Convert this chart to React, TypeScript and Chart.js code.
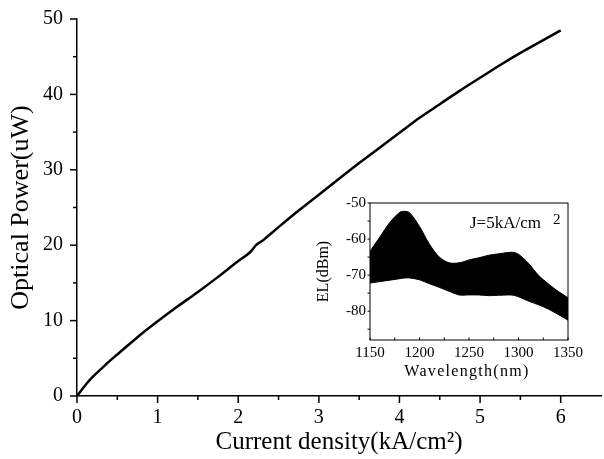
import React, { useEffect, useRef } from 'react';
import { Chart, registerables } from 'chart.js';
Chart.register(...registerables);

// Main curve: optical power vs current density
const currentDensity = [0, 0.1, 0.2, 0.3, 0.4, 0.5, 0.75, 1.0, 1.25, 1.5, 1.75, 2.0, 2.15, 2.22, 2.3, 2.5, 2.75, 3.0, 3.25, 3.5, 3.75, 4.0, 4.25, 4.5, 4.75, 5.0, 5.25, 5.5, 5.75, 6.0];
const opticalPower = [0, 1.4, 2.6, 3.6, 4.6, 5.5, 7.8, 9.9, 11.9, 13.8, 15.8, 17.9, 19.1, 20.0, 20.6, 22.4, 24.6, 26.7, 28.8, 30.9, 32.9, 34.9, 36.9, 38.7, 40.5, 42.2, 43.9, 45.5, 47.0, 48.5];
const mainXTicks = [0, 0.5, 1, 1.5, 2, 2.5, 3, 3.5, 4, 4.5, 5, 5.5, 6, 6.5];
const mainYTicks = [0, 5, 10, 15, 20, 25, 30, 35, 40, 45, 50];

// Inset: EL spectrum envelope
const wavelength = [1150, 1160, 1170, 1180, 1185, 1190, 1200, 1210, 1220, 1230, 1240, 1250, 1260, 1270, 1280, 1290, 1295, 1300, 1310, 1320, 1330, 1340, 1350];
const elUpper = [-63.4, -59.4, -55.4, -52.6, -52.3, -52.7, -56.5, -61.4, -65.0, -66.6, -66.6, -65.8, -65.2, -64.5, -64.1, -63.7, -63.7, -64.2, -66.7, -70.0, -72.4, -74.5, -76.3];
const elLower = [-72.2, -71.8, -71.4, -71.0, -70.8, -70.8, -71.3, -72.4, -73.4, -74.5, -75.5, -75.5, -75.5, -75.7, -75.6, -75.5, -75.6, -76.0, -77.2, -78.2, -79.4, -80.9, -82.5];
const insetXTicks = [1150, 1175, 1200, 1225, 1250, 1275, 1300, 1325, 1350];
const insetYTicks = [-85, -80, -75, -70, -65, -60, -55, -50];

const SERIF = "'Liberation Serif', 'Times New Roman', serif";

const mainTicksPlugin = {
  id: 'mainTicks',
  afterDraw(chart: any) {
    const ctx = chart.ctx;
    const xs = chart.scales.x;
    const ys = chart.scales.y;
    const { left, bottom } = chart.chartArea;
    ctx.save();
    ctx.strokeStyle = '#000';
    ctx.lineWidth = 1.5;
    mainXTicks.forEach((v) => {
      if (v >= xs.max) return;
      const px = xs.getPixelForValue(v);
      const len = v % 1 === 0 ? 7 : 4;
      ctx.beginPath();
      ctx.moveTo(px, bottom);
      ctx.lineTo(px, bottom + len);
      ctx.stroke();
    });
    mainYTicks.forEach((v) => {
      const py = ys.getPixelForValue(v);
      const len = v % 10 === 0 ? 7 : 4;
      ctx.beginPath();
      ctx.moveTo(left, py);
      ctx.lineTo(left - len, py);
      ctx.stroke();
    });
    ctx.restore();
  },
};

const insetPlugin = {
  id: 'insetDecor',
  afterDraw(chart: any) {
    const ctx = chart.ctx;
    const { left, right, top, bottom } = chart.chartArea;
    const xs = chart.scales.x;
    const ys = chart.scales.y;
    ctx.save();
    ctx.strokeStyle = '#000';
    ctx.lineWidth = 1;
    ctx.strokeRect(left, top, right - left, bottom - top);
    insetXTicks.forEach((v) => {
      const px = xs.getPixelForValue(v);
      ctx.beginPath();
      ctx.moveTo(px, bottom);
      ctx.lineTo(px, bottom - 2.5);
      ctx.stroke();
    });
    insetYTicks.forEach((v) => {
      const py = ys.getPixelForValue(v);
      ctx.beginPath();
      ctx.moveTo(left, py);
      ctx.lineTo(left - 2.5, py);
      ctx.stroke();
    });
    ctx.fillStyle = '#000';
    ctx.textBaseline = 'middle';
    ctx.textAlign = 'left';
    ctx.font = `17px ${SERIF}`;
    ctx.fillText('J=5kA/cm', 170, 34);
    ctx.font = `15px ${SERIF}`;
    ctx.fillText('2', 253, 30);
    ctx.font = `16px ${SERIF}`;
    ctx.textAlign = 'center';
    try {
      (ctx as any).letterSpacing = '1.3px';
    } catch (e) {}
    ctx.fillText('Wavelength(nm)', (left + right) / 2 - 2, 182);
    try {
      (ctx as any).letterSpacing = '0px';
    } catch (e) {}
    ctx.restore();
  },
};

export default function App() {
  const mainRef = useRef<HTMLCanvasElement>(null);
  const insetRef = useRef<HTMLCanvasElement>(null);

  useEffect(() => {
    const main = new Chart(mainRef.current!, {
      type: 'line',
      data: {
        datasets: [
          {
            data: currentDensity.map((x, i) => ({ x, y: opticalPower[i] })),
            borderColor: '#000',
            borderWidth: 2.5,
            pointRadius: 0,
            cubicInterpolationMode: 'monotone',
            fill: false,
          },
        ],
      },
      options: {
        responsive: false,
        animation: false,
        devicePixelRatio: 1,
        layout: { padding: { top: 17, right: 0, left: 0, bottom: 0 } },
        plugins: { legend: { display: false }, tooltip: { enabled: false } },
        scales: {
          x: {
            type: 'linear',
            min: 0,
            max: 6.5,
            afterBuildTicks: (s: any) => {
              s.ticks = mainXTicks.map((v) => ({ value: v }));
            },
            afterFit: (s: any) => {
              s.height = 63;
            },
            grid: { drawOnChartArea: false, drawTicks: true, tickLength: 7, tickColor: 'transparent' },
            border: { display: true, color: '#000', width: 1.5 },
            ticks: {
              autoSkip: false,
              maxRotation: 0,
              padding: 3,
              color: '#000',
              font: { family: SERIF, size: 20 },
              callback: (v: any) => (Number(v) % 1 === 0 && Number(v) <= 6 ? String(v) : ''),
            },
            title: {
              display: true,
              text: 'Current density(kA/cm²)',
              color: '#000',
              font: { family: SERIF, size: 25 },
              padding: { top: 0, bottom: 2 },
            },
          },
          y: {
            type: 'linear',
            min: 0,
            max: 50,
            afterBuildTicks: (s: any) => {
              s.ticks = mainYTicks.map((v) => ({ value: v }));
            },
            afterFit: (s: any) => {
              s.width = 77;
            },
            grid: { drawOnChartArea: false, drawTicks: true, tickLength: 7, tickColor: 'transparent' },
            border: { display: true, color: '#000', width: 1.5 },
            ticks: {
              autoSkip: false,
              padding: 7,
              color: '#000',
              font: { family: SERIF, size: 20 },
              callback: (v: any) => (Number(v) % 10 === 0 ? String(v) : ''),
            },
            title: {
              display: true,
              text: 'Optical Power(uW)',
              color: '#000',
              font: { family: SERIF, size: 26 },
              padding: { top: 6, bottom: 0 },
            },
          },
        },
      },
      plugins: [mainTicksPlugin],
    } as any);

    const inset = new Chart(insetRef.current!, {
      type: 'line',
      data: {
        datasets: [
          {
            data: wavelength.map((x, i) => ({ x, y: elUpper[i] })),
            borderColor: '#000',
            backgroundColor: '#000',
            borderWidth: 1,
            pointRadius: 0,
            tension: 0.3,
            fill: '+1',
          },
          {
            data: wavelength.map((x, i) => ({ x, y: elLower[i] })),
            borderColor: '#000',
            borderWidth: 1,
            pointRadius: 0,
            tension: 0.3,
            fill: false,
          },
        ],
      },
      options: {
        responsive: false,
        animation: false,
        devicePixelRatio: 1,
        layout: { padding: { top: 13, right: 13, left: 0, bottom: 0 } },
        plugins: { legend: { display: false }, tooltip: { enabled: false } },
        scales: {
          x: {
            type: 'linear',
            min: 1150,
            max: 1350,
            afterBuildTicks: (s: any) => {
              s.ticks = insetXTicks.map((v) => ({ value: v }));
            },
            afterFit: (s: any) => {
              s.height = 50;
            },
            grid: { drawOnChartArea: false, drawTicks: true, tickLength: 2, tickColor: 'transparent' },
            border: { display: false },
            ticks: {
              autoSkip: false,
              maxRotation: 0,
              padding: 2,
              color: '#000',
              font: { family: SERIF, size: 15 },
              callback: (v: any) => (Number(v) % 50 === 0 ? String(v) : ''),
            },
            title: { display: false, text: 'Wavelength(nm)' },
          },
          y: {
            type: 'linear',
            min: -88,
            max: -50,
            afterBuildTicks: (s: any) => {
              s.ticks = insetYTicks.map((v) => ({ value: v }));
            },
            afterFit: (s: any) => {
              s.width = 70;
            },
            grid: { drawOnChartArea: false, drawTicks: true, tickLength: 2, tickColor: 'transparent' },
            border: { display: false },
            ticks: {
              autoSkip: false,
              padding: 2,
              color: '#000',
              font: { family: SERIF, size: 15 },
              callback: (v: any) => (Number(v) % 10 === 0 ? String(v) : ''),
            },
            title: {
              display: true,
              text: 'EL(dBm)',
              color: '#000',
              font: { family: SERIF, size: 16 },
              padding: { top: 14, bottom: 0 },
            },
          },
        },
      },
      plugins: [insetPlugin],
    } as any);

    return () => {
      main.destroy();
      inset.destroy();
    };
  }, []);

  return (
    <div style={{ position: 'fixed', left: 0, top: 0, width: 604, height: 459, background: '#fff' }}>
      <canvas ref={mainRef} width={604} height={459} style={{ position: 'absolute', left: 0, top: 0, width: 604, height: 459 }} />
      <canvas ref={insetRef} width={285} height={200} style={{ position: 'absolute', left: 300, top: 190, width: 285, height: 200 }} />
    </div>
  );
}
